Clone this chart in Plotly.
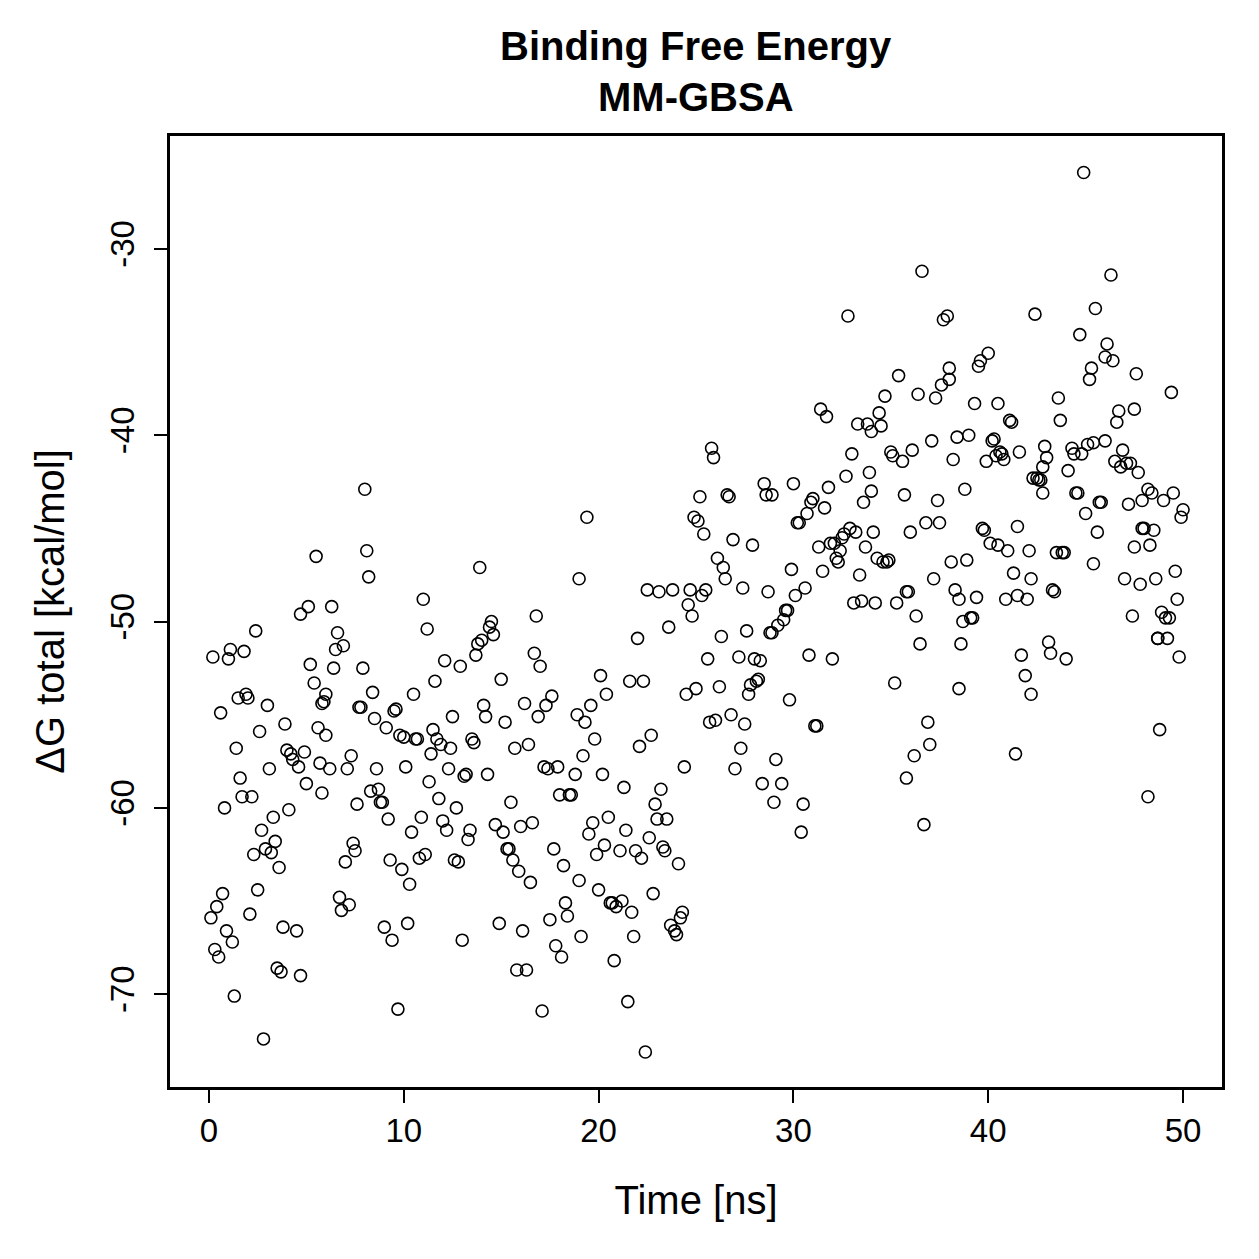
import plotly.graph_objects as go

time_ns = [0.2,0.1,0.4,0.3,0.5,0.6,0.7,0.8,0.9,1.0,1.1,1.2,1.3,1.4,1.5,1.6,1.7,1.8,1.9,2.0,
2.1,2.2,2.3,2.4,2.5,2.6,2.7,2.8,2.9,3.0,3.1,3.2,3.3,3.4,3.5,3.6,3.7,3.8,3.9,4.0,
4.1,4.2,4.3,4.5,4.6,4.7,4.7,4.9,5.0,5.1,5.2,5.4,5.5,5.6,5.7,5.8,5.8,5.9,6.0,6.0,
6.2,6.3,6.4,6.5,6.6,6.7,6.8,6.9,7.0,7.1,7.2,7.3,7.4,7.5,7.6,7.7,7.8,7.9,8.0,8.1,
8.2,8.3,8.4,8.5,8.6,8.7,8.8,8.9,9.0,9.1,9.2,9.3,9.4,9.5,9.6,9.7,9.8,9.9,10.0,10.1,
10.2,10.3,10.4,10.5,10.6,10.7,10.8,10.9,11.0,11.1,11.2,11.3,11.4,11.5,11.6,11.7,11.8,11.9,12.0,12.1,
12.2,12.3,12.4,12.5,12.6,12.7,12.8,12.9,13.0,13.1,13.2,13.3,13.4,13.5,13.6,13.7,13.8,13.9,14.0,14.1,
14.2,14.3,14.4,14.5,14.6,14.7,14.9,15.0,15.1,15.2,15.3,15.4,15.5,15.6,15.7,15.8,15.9,16.0,16.1,16.2,
16.3,16.4,16.5,16.6,16.7,16.8,16.9,17.0,17.1,17.2,17.3,17.4,17.5,17.6,17.7,17.8,17.9,18.0,18.1,18.2,
18.3,18.4,18.5,18.6,18.8,18.9,19.0,19.0,19.1,19.2,19.3,19.4,19.5,19.6,19.7,19.8,19.9,20.0,20.1,20.2,
20.3,20.4,20.5,20.6,20.7,20.8,20.9,21.1,21.2,21.3,21.4,21.5,21.6,21.7,21.8,21.9,22.0,22.1,22.2,22.3,
22.4,22.5,22.6,22.7,22.8,22.9,23.0,23.1,23.2,23.3,23.4,23.5,23.6,23.7,23.8,23.9,24.0,24.1,24.2,24.3,
24.4,24.5,24.6,24.7,24.8,24.9,25.0,25.1,25.2,25.3,25.4,25.5,25.6,25.7,25.8,25.9,26.0,26.1,26.2,26.3,
26.4,26.5,26.6,26.7,26.8,26.9,27.0,27.2,27.3,27.4,27.5,27.6,27.7,27.8,27.9,28.0,28.1,28.2,28.3,28.4,
28.5,28.6,28.7,28.8,28.9,28.9,29.0,29.1,29.2,29.4,29.5,29.6,29.7,29.8,29.9,30.0,30.1,30.2,30.3,30.4,
30.5,30.6,30.7,30.8,30.9,31.0,31.1,31.2,31.3,31.4,31.5,31.6,31.7,31.8,31.9,32.0,32.1,32.2,32.3,32.4,
32.5,32.6,32.7,32.8,32.9,33.0,33.1,33.2,33.3,33.4,33.5,33.6,33.7,33.8,33.9,34.0,34.0,34.1,34.2,34.3,
34.4,34.5,34.6,34.7,34.8,34.9,35.0,35.1,35.2,35.3,35.4,35.6,35.7,35.8,35.9,36.0,36.1,36.2,36.3,36.4,
36.5,36.6,36.7,36.8,36.9,37.0,37.1,37.2,37.3,37.4,37.5,37.6,37.7,37.9,38.0,38.0,38.1,38.2,38.3,38.4,
38.5,38.5,38.6,38.7,38.8,38.9,39.0,39.1,39.2,39.3,39.4,39.5,39.6,39.7,39.8,39.9,40.0,40.1,40.2,40.3,
40.4,40.5,40.5,40.6,40.7,40.8,40.9,41.0,41.1,41.2,41.3,41.4,41.5,41.5,41.6,41.7,41.9,42.0,42.1,42.2,
42.2,42.3,42.4,42.5,42.6,42.7,42.8,42.8,42.9,43.0,43.1,43.2,43.3,43.4,43.5,43.6,43.7,43.8,43.9,44.0,
44.1,44.3,44.4,44.5,44.6,44.7,44.8,44.9,45.0,45.1,45.2,45.3,45.4,45.4,45.5,45.6,45.7,45.8,46.0,46.0,
46.1,46.3,46.4,46.5,46.6,46.7,46.8,46.9,47.0,47.1,47.2,47.3,47.4,47.5,47.5,47.6,47.7,47.8,47.9,47.9,
48.0,48.2,48.3,48.4,48.5,48.6,48.7,48.7,48.8,48.9,49.0,49.1,49.2,49.3,49.4,49.5,49.6,48.2,49.7,49.8,
49.9,50.0,35.8]

delta_g = [-51.9,-65.9,-65.3,-67.6,-68.0,-54.9,-64.6,-60.0,-66.6,-52.0,-51.5,-67.2,-70.1,-56.8,-54.1,-58.4,-59.4,-51.6,-53.9,-54.1,
-65.7,-59.4,-62.5,-50.5,-64.4,-55.9,-61.2,-72.4,-62.2,-54.5,-57.9,-62.4,-60.5,-61.8,-68.6,-63.2,-68.8,-66.4,-55.5,-56.9,
-60.1,-57.1,-57.4,-66.6,-57.8,-69.0,-49.6,-57.0,-58.7,-49.2,-52.3,-53.3,-46.5,-55.7,-57.6,-59.2,-54.4,-54.3,-56.1,-53.9,
-57.9,-49.2,-52.5,-51.5,-50.6,-64.8,-65.5,-51.3,-62.9,-57.9,-65.2,-57.2,-61.9,-62.3,-59.8,-54.6,-54.6,-52.5,-42.9,-46.2,
-47.6,-59.1,-53.8,-55.2,-57.9,-59.0,-59.7,-59.7,-66.4,-55.7,-60.6,-62.8,-67.1,-54.8,-54.7,-70.8,-56.1,-63.3,-56.2,-57.8,
-66.2,-64.1,-61.3,-53.9,-56.3,-56.3,-62.7,-60.5,-48.8,-62.5,-50.4,-58.6,-57.1,-55.8,-53.2,-56.3,-59.5,-56.6,-60.7,-52.1,
-61.2,-57.9,-56.8,-55.1,-62.8,-60.0,-62.9,-52.4,-67.1,-58.3,-58.2,-61.7,-61.2,-56.3,-56.5,-51.8,-51.2,-47.1,-51.0,-54.5,
-55.1,-58.2,-50.3,-50.0,-50.7,-60.9,-66.2,-53.1,-61.3,-55.4,-62.2,-62.2,-59.7,-62.8,-56.8,-68.7,-63.4,-61.0,-66.6,-54.4,
-68.7,-56.6,-64.0,-60.8,-51.7,-49.7,-55.1,-52.4,-70.9,-57.8,-54.5,-57.9,-66.0,-54.0,-62.2,-67.4,-57.8,-59.3,-68.0,-63.1,
-65.1,-65.8,-59.3,-59.3,-58.2,-55.0,-47.7,-63.9,-66.9,-57.2,-55.4,-44.4,-61.4,-54.5,-60.8,-56.3,-62.5,-64.4,-52.9,-58.2,
-62.0,-53.9,-60.5,-65.1,-65.1,-68.2,-65.3,-62.3,-65.0,-58.9,-61.2,-70.4,-53.2,-65.6,-66.9,-62.3,-50.9,-56.7,-62.7,-53.2,
-73.1,-48.3,-61.6,-56.1,-64.6,-59.8,-60.6,-48.4,-59.0,-62.1,-62.3,-60.6,-50.3,-66.3,-48.3,-66.6,-66.8,-63.0,-65.9,-65.6,
-57.8,-53.9,-49.1,-48.3,-49.7,-44.4,-53.6,-44.6,-43.3,-48.6,-45.3,-48.3,-52.0,-55.4,-40.7,-41.2,-55.3,-46.6,-53.5,-50.8,
-47.1,-47.7,-43.2,-43.3,-55.0,-45.6,-57.9,-51.9,-56.8,-48.2,-55.5,-50.5,-53.9,-53.4,-45.9,-52.0,-53.2,-53.1,-52.1,-58.7,
-42.6,-43.2,-48.4,-50.6,-43.2,-50.6,-59.7,-57.4,-50.2,-58.7,-49.9,-49.4,-49.4,-54.2,-47.2,-42.6,-48.6,-44.7,-44.7,-61.3,
-59.8,-48.2,-44.2,-51.8,-43.6,-43.4,-55.6,-55.6,-46.0,-38.6,-47.3,-43.9,-39.0,-42.8,-45.8,-52.0,-45.8,-46.6,-46.8,-46.2,
-45.5,-45.3,-42.2,-33.6,-45.0,-41.0,-49.0,-45.2,-39.4,-47.5,-48.9,-43.6,-46.0,-39.4,-42.0,-43.0,-39.8,-45.2,-49.0,-46.6,
-38.8,-39.5,-46.8,-37.9,-46.8,-46.7,-40.9,-41.1,-53.3,-49.0,-36.8,-41.4,-43.2,-48.4,-48.4,-45.2,-40.8,-57.2,-49.7,-37.8,
-51.2,-31.2,-60.9,-44.7,-55.4,-56.6,-40.3,-47.7,-38.0,-43.5,-44.7,-37.3,-33.8,-33.6,-37.0,-36.4,-46.8,-41.3,-48.3,-40.1,
-53.6,-48.8,-51.2,-50.0,-42.9,-46.7,-40.0,-49.8,-49.8,-38.3,-48.7,-36.3,-36.0,-45.0,-45.1,-41.4,-35.6,-45.8,-40.3,-40.2,
-41.1,-45.9,-38.3,-40.9,-41.0,-41.3,-48.8,-46.2,-39.2,-39.3,-47.4,-57.1,-44.9,-48.6,-40.9,-51.8,-52.9,-48.8,-46.2,-47.7,
-53.9,-42.3,-33.5,-42.3,-42.4,-42.4,-41.7,-43.1,-40.6,-41.2,-51.1,-51.7,-48.3,-48.4,-46.3,-38.0,-39.2,-46.3,-46.3,-52.0,
-41.9,-40.7,-41.0,-43.1,-43.1,-34.6,-41.0,-25.9,-44.2,-40.5,-37.0,-36.4,-46.9,-40.4,-33.2,-45.2,-43.6,-43.6,-40.3,-35.8,
-35.1,-31.4,-36.0,-41.4,-39.3,-38.7,-41.7,-40.8,-47.7,-41.5,-43.7,-41.5,-49.7,-46.0,-38.6,-36.7,-42.0,-48.0,-45.0,-43.5,
-45.0,-42.9,-45.9,-43.1,-45.1,-47.7,-50.9,-50.9,-55.8,-49.5,-43.5,-49.8,-50.9,-49.8,-37.7,-43.1,-47.3,-59.4,-48.8,-51.9,
-44.4,-44.0,-58.4]

x_ticks = [0, 10, 20, 30, 40, 50]
y_ticks = [-70, -60, -50, -40, -30]

FONT = "Liberation Sans, Arial, Helvetica, sans-serif"

fig = go.Figure()
fig.add_trace(go.Scatter(
    x=time_ns, y=delta_g, mode="markers",
    marker=dict(symbol="circle-open", size=12, color="black", line=dict(width=1.6, color="black")),
    showlegend=False, hoverinfo="x+y"))

fig.update_layout(
    width=1259, height=1259,
    margin=dict(l=170, r=37, t=136, b=172),
    paper_bgcolor="white", plot_bgcolor="white",
    font=dict(family=FONT, color="black", size=33),
    annotations=[
        dict(text="<b>Binding Free Energy</b>", xref="paper", yref="paper", x=0.5, y=1.0946,
             showarrow=False, font=dict(size=40, family=FONT), xanchor="center", yanchor="middle"),
        dict(text="<b>MM-GBSA</b>", xref="paper", yref="paper", x=0.5, y=1.0410,
             showarrow=False, font=dict(size=40, family=FONT), xanchor="center", yanchor="middle"),
    ],
    xaxis=dict(range=[-2, 52], tickvals=x_ticks, ticktext=[str(v) for v in x_ticks],
               showgrid=False, zeroline=False, showline=True, mirror=True, linecolor="black", linewidth=2.5,
               ticks="outside", ticklen=13, tickwidth=2, tickcolor="black",
               tickfont=dict(size=33, family=FONT),
               title=dict(text="Time [ns]", standoff=38, font=dict(size=40, family=FONT))),
    yaxis=dict(range=[-74.98, -23.94], tickvals=y_ticks, ticktext=[str(v) for v in y_ticks],
               showgrid=False, zeroline=False, showline=True, mirror=True, linecolor="black", linewidth=2.5,
               ticks="outside", ticklen=13, tickwidth=2, tickcolor="black", tickangle=-90,
               ticklabelstandoff=7,
               tickfont=dict(size=33, family=FONT),
               title=dict(text="ΔG total [kcal/mol]", standoff=28, font=dict(size=40, family=FONT))),
)

fig.write_html("out.html")
